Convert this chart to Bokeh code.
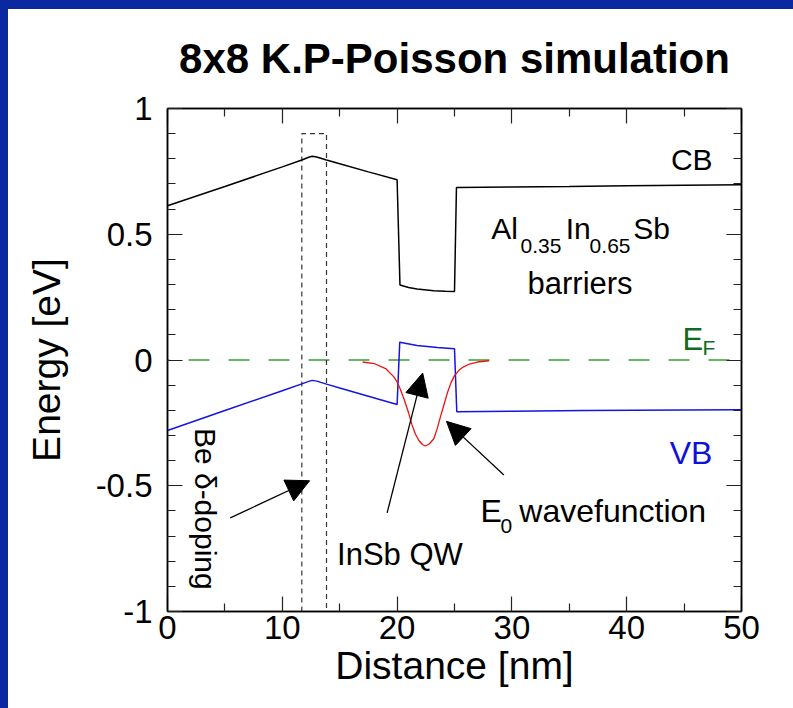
import numpy as np
from bokeh.plotting import figure
from bokeh.models import (Range1d, LinearAxis, FixedTicker, Arrow, NormalHead,
                          ColumnDataSource, Spacer, Label)
from bokeh.layouts import row, column
from bokeh.embed import file_html
from bokeh.resources import INLINE

# ---- band-edge profiles from the 8x8 k.p / Poisson solution ----
# conduction band edge (eV) against distance (nm)
cb_x = [0, 5, 10, 11.7, 12.3, 12.6, 13.0, 13.85, 15, 17.5, 20.0,
        20.25, 21.0, 21.74, 23.2, 24.2, 25.0,
        25.17, 30, 35, 40, 45, 50]
cb_y = [0.613, 0.690, 0.768, 0.795, 0.806, 0.810, 0.807, 0.795, 0.780, 0.748, 0.717,
        0.298, 0.288, 0.282, 0.275, 0.273, 0.272,
        0.686, 0.688, 0.690, 0.693, 0.695, 0.697]

# valence band edge (eV)
vb_x = [0, 5, 10, 11.7, 12.3, 12.6, 13.0, 13.85, 15, 17.5, 20.0,
        20.23, 21.74, 23.5, 25.0,
        25.2, 30, 36.3, 45, 50]
vb_y = [-0.280, -0.201, -0.122, -0.095, -0.085, -0.081, -0.084, -0.096, -0.111, -0.144, -0.177,
        0.071, 0.058, 0.050, 0.045,
        -0.206, -0.204, -0.201, -0.199, -0.198]

# ground-state (E0) hole wavefunction, drawn below the Fermi level
wf_x = [17.0, 18.0, 19.0, 19.7, 20.0, 20.3, 20.6, 21.0, 21.3, 21.6, 21.9, 22.2, 22.47,
        22.8, 23.2, 23.5, 23.8, 24.1, 24.4, 24.7, 25.0, 25.4, 25.8, 26.3, 27.0, 28.0]
wf_y = [-0.008, -0.014, -0.034, -0.066, -0.087, -0.118, -0.155, -0.210, -0.258, -0.295,
        -0.320, -0.336, -0.342, -0.334, -0.313, -0.272, -0.222, -0.175, -0.128, -0.090,
        -0.062, -0.040, -0.027, -0.016, -0.008, -0.003]

# Fermi level
ef_x = [0, 50]
ef_y = [0, 0]

# Be delta-doping region outline
dop_x = [11.7, 11.7, 13.85, 13.85]
dop_y = [-1.0, 0.9, 0.9, -1.0]

# annotation arrows (tail -> head)
arr_x0 = [5.47, 19.13, 29.3]
arr_y0 = [-0.628, -0.608, -0.457]
arr_x1 = [12.38, 22.23, 24.3]
arr_y1 = [-0.480, -0.052, -0.244]

# axis ticks
x_ticks = [0, 10, 20, 30, 40, 50]
x_tick_labels = ["0", "10", "20", "30", "40", "50"]
x_minor = [5, 15, 25, 35, 45]
y_ticks = [-1, -0.5, 0, 0.5, 1]
y_tick_labels = ["-1", "-0.5", "0", "0.5", "1"]
y_minor = [round(v, 1) for v in np.arange(-1.0, 1.001, 0.1)]

FONT = "Liberation Sans"
BLUE_FRAME = "#0a28a0"

p = figure(width=785, height=699, x_range=Range1d(0, 50), y_range=Range1d(-1, 1),
           output_backend="svg", toolbar_location=None,
           min_border_left=159, min_border_right=52, min_border_top=98, min_border_bottom=97,
           background_fill_color="white", border_fill_color="white")
p.grid.visible = False
p.outline_line_color = "black"
p.outline_line_width = 1.5

bottom_axis = p.below[0]
left_axis = p.left[0]

p.title.text = "8x8 K.P-Poisson simulation"
p.title.text_font = FONT
p.title.text_font_size = "42px"
p.title.text_font_style = "bold"
p.title.align = "center"
p.title.vertical_align = "top"
p.title.text_color = "black"
p.title.standoff = 50

top_axis = LinearAxis()
right_axis = LinearAxis()
p.add_layout(top_axis, "above")
p.add_layout(right_axis, "right")

for ax in (bottom_axis, top_axis):
    ax.ticker = FixedTicker(ticks=x_ticks, minor_ticks=x_minor)
for ax in (left_axis, right_axis):
    ax.ticker = FixedTicker(ticks=y_ticks, minor_ticks=y_minor)

for ax in (bottom_axis, left_axis, top_axis, right_axis):
    ax.major_tick_in = 15
    ax.major_tick_out = 0
    ax.minor_tick_in = 8
    ax.minor_tick_out = 0
    ax.major_tick_line_width = 1.2
    ax.minor_tick_line_width = 1.2
    ax.major_tick_line_color = "#222222"
    ax.minor_tick_line_color = "#222222"
    ax.axis_line_width = 1.5
    ax.axis_line_color = "black"
    ax.major_label_text_font = FONT
    ax.major_label_text_font_size = "33px"
    ax.major_label_text_color = "black"

for ax in (top_axis, right_axis):
    ax.major_label_text_font_size = "1px"
    ax.major_label_text_color = None
    ax.major_label_standoff = 0

bottom_axis.major_label_overrides = dict(zip(x_ticks, x_tick_labels))
left_axis.major_label_overrides = dict(zip(y_ticks, y_tick_labels))
bottom_axis.major_label_standoff = 4
left_axis.major_label_standoff = 15

bottom_axis.axis_label = "Distance [nm]"
left_axis.axis_label = "Energy [eV]"
for ax in (bottom_axis, left_axis):
    ax.axis_label_text_font = FONT
    ax.axis_label_text_font_size = "39px"
    ax.axis_label_text_font_style = "normal"
    ax.axis_label_text_color = "black"
bottom_axis.axis_label_standoff = 2
left_axis.axis_label_standoff = 25

# curves
p.line(ef_x, ef_y, line_color="#33a033", line_width=1.5, line_dash="21 19", line_dash_offset=19)
p.line(dop_x, dop_y, line_color="#333333", line_width=1.2, line_dash="5 4")
p.line(cb_x, cb_y, line_color="black", line_width=1.5)
p.line(vb_x, vb_y, line_color="#1515e0", line_width=1.5)
p.line(wf_x, wf_y, line_color="#ee1111", line_width=1.3)

# arrows
arr_src = ColumnDataSource(dict(x0=arr_x0, y0=arr_y0, x1=arr_x1, y1=arr_y1))
p.add_layout(Arrow(end=NormalHead(size=23, fill_color="black", line_color="black", line_width=1),
                   x_start="x0", y_start="y0", x_end="x1", y_end="y1",
                   line_color="black", line_width=1.3, source=arr_src))


def put(x, y, text, size, color="black", angle=0.0):
    p.add_layout(Label(x=x, y=y, text=text, text_font=FONT, text_font_size=f"{size}px",
                       text_color=color, text_align="left", text_baseline="alphabetic",
                       angle=angle))


put(43.85, 0.796, "CB", 30)
# barrier composition with subscripts
put(28.2, 0.524, "Al", 30)
put(30.75, 0.455, "0.35", 21)
put(34.68, 0.524, "In", 30)
put(36.77, 0.455, "0.65", 21)
put(40.58, 0.524, "Sb", 30)
put(31.36, 0.306, "barriers", 31)
# Fermi level label
put(44.86, 0.081, "E", 31, "#0f6b1e")
put(46.6, 0.048, "F", 21, "#0f6b1e")
put(43.75, -0.369, "VB", 32, "#1010d8")
put(27.27, -0.600, "E", 32)
put(29.0, -0.660, "0", 21)
put(30.65, -0.600, "wavefunction", 32)
put(14.77, -0.772, "InSb QW", 31)
put(3.29, -0.27, "Be δ-doping", 30, angle=-np.pi / 2)

left_bar = Spacer(width=8, height=708, styles={"background-color": BLUE_FRAME})
top_bar = Spacer(width=785, height=9, styles={"background-color": BLUE_FRAME})
layout = row(left_bar, column(top_bar, p))

open("out.html", "w").write(file_html(layout, INLINE))
